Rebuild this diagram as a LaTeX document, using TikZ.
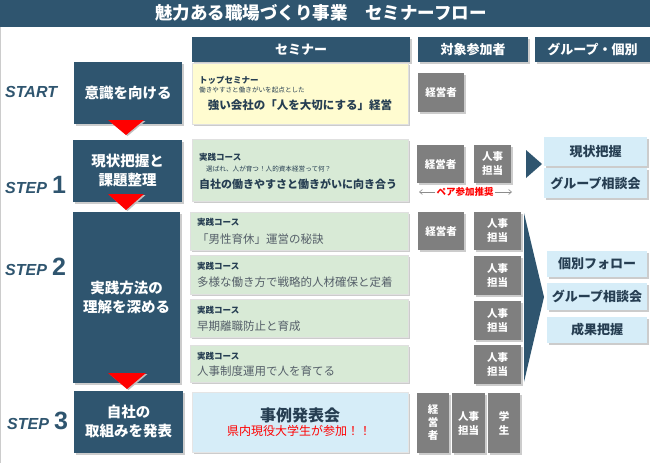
\documentclass[tikz,border=0pt]{standalone}
\usepackage{fontspec}
\setmainfont{Noto Sans CJK JP}
\newfontfamily\stepfont{Liberation Sans}
\usetikzlibrary{shadows,arrows.meta}
\definecolor{slate}{RGB}{47,85,111}
\definecolor{slatetxt}{RGB}{38,62,82}
\definecolor{yfill}{RGB}{255,252,208}
\definecolor{gfill}{RGB}{216,234,214}
\definecolor{bfill}{RGB}{214,237,248}
\definecolor{pgrey}{RGB}{127,127,127}
\definecolor{ctext}{RGB}{85,95,105}
\definecolor{redc}{RGB}{255,0,0}
\newcommand\fsz[2]{\fontsize{#1}{#2}\selectfont}
\begin{document}
\begin{tikzpicture}[x=1pt,y=-1pt,
  shd/.style={drop shadow={shadow xshift=1.5pt,shadow yshift=-1.5pt,fill=black!20,opacity=1}},
  darkbox/.style={fill=slate,text=white,font=\bfseries\fsz{14.5}{19},inner sep=0pt,align=center,shd},
  headbox/.style={fill=slate,text=white,font=\bfseries\fsz{13}{15},inner sep=0pt,shd},
  ybox/.style={fill=yfill,draw=black!12,inner sep=0pt,shd},
  gbox/.style={fill=gfill,draw=black!12,inner sep=0pt,shd},
  bbox/.style={fill=bfill,inner sep=0pt,shd},
  rbox/.style={fill=bfill,text=slatetxt,font=\bfseries\fsz{13}{15},inner sep=0pt,shd},
  pbox/.style={fill=pgrey,text=white,font=\bfseries\fsz{10.5}{14},inner sep=0pt,align=center,shd},
  steplbl/.style={text=slate,font=\stepfont\bfseries\itshape\fsz{16}{18},inner sep=0pt,anchor=base west},
  stepnum/.style={text=slate,font=\stepfont\bfseries\fsz{25}{28},inner sep=0pt,anchor=base west},
  kind/.style={text=slatetxt,font=\bfseries\fsz{8.5}{10},inner sep=0pt,anchor=west},
  sub/.style={text=slatetxt,font=\fsz{6.6}{8},inner sep=0pt,anchor=west},
  ctitle/.style={text=ctext,font=\fsz{11.5}{13},inner sep=0pt,anchor=west},
  redtri/.style={fill=redc,draw=none,drop shadow={shadow xshift=1.5pt,shadow yshift=-1pt,fill=black!25,opacity=1}},
  darktri/.style={fill=slate,draw=none}
]
\useasboundingbox (0,0) rectangle (650,463);
\fill[white] (0,0) rectangle (650,463);
\draw[black!20,line width=1pt] (0.5,27) -- (0.5,463);

% title
\node[fill=slate,minimum width=650pt,minimum height=27pt,inner sep=0pt] (title) at (325,13.5) {};
\node[text=white,font=\bfseries\fsz{17.5}{19},inner sep=0pt] (titlet) at (321,12.5) {魅力ある職場づくり事業　セミナーフロー};

% headers
\node[headbox,minimum width=218pt,minimum height=25pt] (hsem) at (301,49.5) {セミナー};
\node[headbox,minimum width=110pt,minimum height=25pt] (hpart) at (473,49.5) {対象参加者};
\node[headbox,minimum width=115pt,minimum height=25pt] (hgrp) at (592.5,49.5) {グループ・個別};

% START
\node[steplbl] (lstart) at (5,97) {START};
\node[darkbox,minimum width=108pt,minimum height=62pt] (b0) at (128,93) {意識を向ける};
\node[ybox,minimum width=216pt,minimum height=61pt] (y0) at (300,93.5) {};
\node[kind] (y0k) at (199,80) {トップセミナー};
\node[sub] (y0s) at (199,90) {働きやすさと働きがいを起点とした};
\node[text=slatetxt,font=\bfseries\fsz{11.5}{13},inner sep=0pt] (y0t) at (300,105) {強い会社の「人を大切にする」経営};
\node[pbox,minimum width=46pt,minimum height=39pt] (p0) at (441,92.5) {経営者};
\coordinate (t0a) at (108,120); \coordinate (t0b) at (144,120); \coordinate (t0c) at (126,135);
\fill[redtri] (t0a) -- (t0b) -- (t0c) -- cycle;

% STEP 1
\node[steplbl] (l1) at (5,193) {STEP};
\node[stepnum] (n1) at (52,193) {1};
\node[darkbox,minimum width=109pt,minimum height=62pt] (b1) at (127.5,171) {現状把握と\\課題整理};
\node[gbox,minimum width=216pt,minimum height=62pt] (g1) at (300,170) {};
\node[kind] (g1k) at (199,157) {実践コース};
\node[sub] (g1s) at (206,169) {選ばれ、人が育つ！人的資本経営って何？};
\node[text=slatetxt,font=\bfseries\fsz{11}{13},inner sep=0pt,anchor=west] (g1t) at (199,184) {自社の働きやすさと働きがいに向き合う};
\node[pbox,minimum width=47pt,minimum height=38pt] (p1a) at (440.5,164) {経営者};
\node[pbox,minimum width=37pt,minimum height=38pt] (p1b) at (492.5,164) {人事\\担当};
\node[text=redc,font=\bfseries\fsz{9.5}{11},inner sep=1pt] (pair) at (465,192) {ペア参加推奨};
\coordinate (pl) at (419,192); \coordinate (pr) at (512,192);
\draw[black!45,line width=0.6pt,-{Straight Barb[length=3pt,width=5pt]}] (pair.west) -- (pl);
\draw[black!45,line width=0.6pt,-{Straight Barb[length=3pt,width=5pt]}] (pair.east) -- (pr);
\coordinate (d1a) at (526,150); \coordinate (d1b) at (526,178); \coordinate (d1c) at (542,164);
\fill[darktri] (d1a) -- (d1b) -- (d1c) -- cycle;
\node[rbox,minimum width=103pt,minimum height=29pt] (r1a) at (595.5,151.5) {現状把握};
\node[rbox,minimum width=103pt,minimum height=30pt] (r1b) at (595.5,183) {グループ相談会};
\coordinate (t1a) at (108,194); \coordinate (t1b) at (144,194); \coordinate (t1c) at (126,210);
\fill[redtri] (t1a) -- (t1b) -- (t1c) -- cycle;

% STEP 2
\node[steplbl] (l2) at (5,275) {STEP};
\node[stepnum] (n2) at (52,275) {2};
\node[darkbox,minimum width=107pt,minimum height=171pt] (b2) at (126.5,297.5) {実践方法の\\理解を深める};
\node[gbox,minimum width=218pt,minimum height=38pt] (g2a) at (299,231) {};
\node[kind] (g2ak) at (197,222) {実践コース};
\node[ctitle] (g2at) at (197,239) {「男性育休」運営の秘訣};
\node[gbox,minimum width=218pt,minimum height=39pt] (g2b) at (299,274.5) {};
\node[kind] (g2bk) at (197,266) {実践コース};
\node[ctitle] (g2bt) at (197,282) {多様な働き方で戦略的人材確保と定着};
\node[gbox,minimum width=218pt,minimum height=38pt] (g2c) at (299,318) {};
\node[kind] (g2ck) at (197,310) {実践コース};
\node[ctitle] (g2ct) at (197,326) {早期離職防止と育成};
\node[gbox,minimum width=218pt,minimum height=37pt] (g2d) at (299,363.5) {};
\node[kind] (g2dk) at (197,356) {実践コース};
\node[ctitle] (g2dt) at (197,371) {人事制度運用で人を育てる};
\node[pbox,minimum width=46pt,minimum height=38pt] (p2a) at (441,231) {経営者};
\node[pbox,minimum width=47pt,minimum height=38pt] (p2b) at (497.5,231) {人事\\担当};
\node[pbox,minimum width=47pt,minimum height=39pt] (p2c) at (497.5,275.5) {人事\\担当};
\node[pbox,minimum width=47pt,minimum height=39pt] (p2d) at (497.5,320.5) {人事\\担当};
\node[pbox,minimum width=47pt,minimum height=39pt] (p2e) at (497.5,364.5) {人事\\担当};
\coordinate (d2a) at (524,213); \coordinate (d2b) at (524,382); \coordinate (d2c) at (544,297);
\fill[darktri] (d2a) -- (d2b) -- (d2c) -- cycle;
\node[rbox,minimum width=100pt,minimum height=26pt] (r2a) at (597,264) {個別フォロー};
\node[rbox,minimum width=100pt,minimum height=27pt] (r2b) at (597,296.5) {グループ相談会};
\node[rbox,minimum width=100pt,minimum height=26pt] (r2c) at (597,330) {成果把握};
\coordinate (t2a) at (108,373); \coordinate (t2b) at (146,373); \coordinate (t2c) at (127,389);
\fill[redtri] (t2a) -- (t2b) -- (t2c) -- cycle;

% STEP 3
\node[steplbl] (l3) at (7,429) {STEP};
\node[stepnum] (n3) at (54,429) {3};
\node[darkbox,minimum width=109pt,minimum height=62pt] (b3) at (128.5,422) {自社の\\取組みを発表};
\node[bbox,draw=black!10,minimum width=216pt,minimum height=60pt] (bl3) at (300,422) {};
\node[text=slatetxt,font=\bfseries\fsz{16}{18},inner sep=0pt] (bl3t) at (300,415) {事例発表会};
\node[text=redc,font=\fsz{12}{14},inner sep=0pt] (bl3s) at (299,431) {県内現役大学生が参加！！};
\node[pbox,minimum width=32pt,minimum height=60pt,font=\bfseries\fsz{10.5}{13}] (p3a) at (433,423) {経\\営\\者};
\node[pbox,minimum width=33pt,minimum height=60pt] (p3b) at (468.5,423) {人事\\担当};
\node[pbox,minimum width=32pt,minimum height=60pt] (p3c) at (504,423) {学\\生};
\end{tikzpicture}
\end{document}
